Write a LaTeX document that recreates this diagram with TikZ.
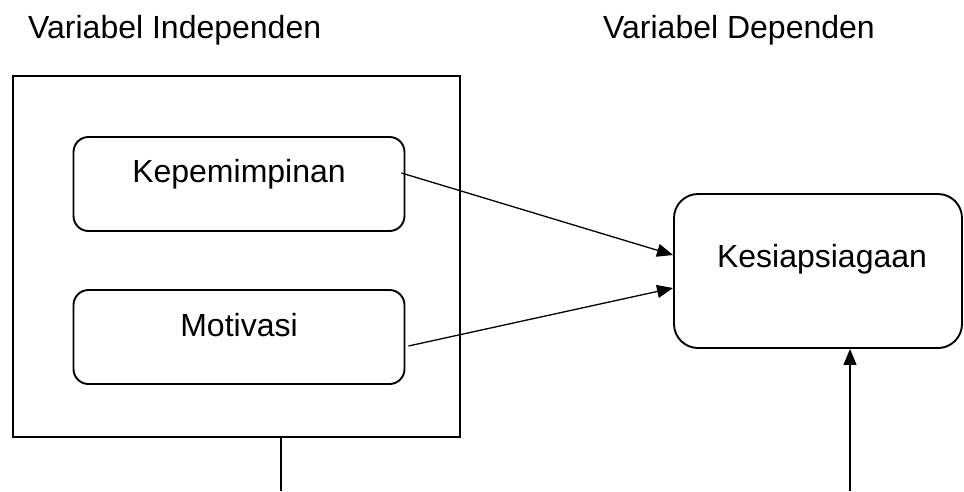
\documentclass[tikz,border=0pt]{standalone}
\usepackage{fontspec}
\setmainfont{Liberation Sans}
\usetikzlibrary{arrows.meta,calc}
\tikzset{
  title/.style={font=\fontsize{32}{38}\selectfont, anchor=base west, inner sep=0pt},
  boxtext/.style={font=\fontsize{32}{38}\selectfont, anchor=base, inner sep=0pt},
  outerbox/.style={draw, line width=2.2pt, inner sep=0pt},
  varbox/.style={draw, line width=1.9pt, rounded corners=15pt, inner sep=0pt},
  depbox/.style={draw, line width=1.9pt, rounded corners=24pt, inner sep=0pt},
  conn/.style={line width=1.6pt},
  arr/.style={line width=1.3pt, -{Triangle[length=16pt,width=13pt]}}
}
\begin{document}
\begin{tikzpicture}[x=1pt,y=-1pt]
\useasboundingbox (0,0) rectangle (964,491);
% titles
\node[title] (t1) at (28,38) {Variabel Independen};
\node[title] (t2) at (603,38) {Variabel Dependen};
% outer box
\node[outerbox, minimum width=447pt, minimum height=361pt] (outer) at (236.5,256.5) {};
% independent variables
\node[varbox, minimum width=331pt, minimum height=94pt] (kep) at (239,184) {};
\node[boxtext] (kept) at (239,182) {Kepemimpinan};
\node[varbox, minimum width=331pt, minimum height=94pt] (mot) at (239,337) {};
\node[boxtext] (mott) at (239,336) {Motivasi};
% dependent variable
\node[depbox, minimum width=288pt, minimum height=154pt] (kes) at (818,271) {};
\node[boxtext] (kest) at (822,267) {Kesiapsiagaan};
% connectors
\coordinate (a1s) at ($(kep.east)+(-4,-11)$);
\coordinate (a1e) at ($(kes.west)+(0,-16)$);
\coordinate (a2s) at ($(mot.east)+(3,9)$);
\coordinate (a2e) at ($(kes.west)+(0,17)$);
\draw[arr] (a1s) -- (a1e);
\draw[arr] (a2s) -- (a2e);
\coordinate (bl) at (281,491);
\draw[conn] (outer.south -| bl) -- (bl);
\coordinate (br) at (850,491);
\draw[arr] (br) -- (br |- kes.south);
\end{tikzpicture}
\end{document}
